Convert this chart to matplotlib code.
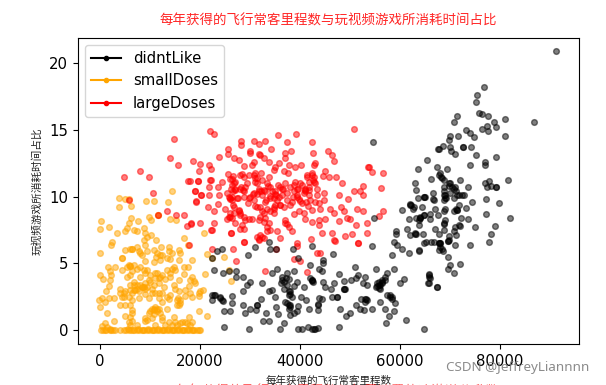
import numpy as np
import matplotlib
matplotlib.use("Agg")
import matplotlib.pyplot as plt
import matplotlib.lines as mlines

cjk = ["Noto Sans CJK SC", "DejaVu Sans"]

title_text = "每年获得的飞行常客里程数与玩视频游戏所消耗时间占比"
next_title_text = "每年获得的飞行常客里程数与每周消费的冰激淋公升数"
xlabel_text = "每年获得的飞行常客里程数"
ylabel_text = "玩视频游戏所消耗时间占比"
watermark = "CSDN @JeffreyLiannnn"
legend_names = ["didntLike", "smallDoses", "largeDoses"]
legend_colors = ["black", "orange", "red"]
x_ticks = [0, 20000, 40000, 60000, 80000]
y_ticks = [0, 5, 10, 15, 20]

# miles are in thousands here
didnt_x = [91.2, 76.7, 75.3, 75.2, 75.7, 76.3, 77.5, 71.3, 70.7, 81, 86.7, 78.7, 77.3, 76.3, 77.5, 79.2, 80.9, 73.2, 74, 74.7,
           71.5, 69.9, 69.7, 68.5, 67.8, 67.5, 70, 70.1, 71, 72.5, 72.6, 74.2, 75.1, 79.2, 77, 76.9, 74, 65.4, 63.5, 67.3,
           69.3, 67.8, 68.3, 66.2, 71.9, 62.9, 63.2, 70, 69.7, 68.7, 70.7, 71.2, 73.5, 76.9, 77.8, 77.3, 78.2, 79.1, 79.2, 81.5,
           63.5, 64.7, 64.8, 66.5, 66.5, 68.7, 69, 69.1, 70.7, 71.7, 72.7, 74.3, 77.1, 79.7, 60.3, 62, 62.1, 62.5, 64.3, 67,
           69, 71.8, 73.1, 71.3, 71.4, 61.7, 63.2, 64, 64.1, 64.7, 65.9, 65.9, 67.5, 68.7, 63.7, 69, 68.7, 72.1, 73.5, 72,
           71, 75, 77.2, 79, 82, 59.2, 59.2, 61.3, 62, 63, 63.1, 64.5, 67, 67.7, 68.7, 70.7, 71.1, 69.7, 78.1, 77.7,
           73.9, 69.5, 69.6, 67.8, 67.9, 66.1, 64.8, 71, 68.3, 58.7, 59.3, 63.7, 54.5, 54.7,
           23.3, 24.3, 22.3, 29.5, 30.9, 33.7, 34, 35.2, 38.5, 42.3, 46.5, 54.4, 60.3, 61.8, 63.7, 58.3, 65.2, 66.7, 67.7, 67.7,
           39.5, 44.5, 44.5, 42, 43.8, 44.4, 22.7, 24.5, 25.8, 27.2, 27.2, 28.5, 30, 29.3, 28.5, 34.3, 35.4, 32.3, 34.3, 33.8,
           38.8, 37.3, 37.1, 37.8, 36.3, 36.2, 36.7, 37.7, 38, 39.3, 38.7, 40.7, 42.3, 42.3, 42.4, 44.5, 45, 46.1, 46.8, 47.8,
           51, 48.8, 48.8, 48.9, 50.1, 51.5, 51.2, 52.9, 52.5, 53.3, 55.1, 58.8, 57.3, 57, 56.3, 55.7, 56, 55.3, 55.7, 56.3,
           60.7, 60, 65.7, 65.7, 65.7, 67.3, 69.6, 70, 69.5, 70.7, 72, 68.5, 65.8, 65.9, 65.6, 67.3,
           22.3, 23, 22.3, 24, 24.5, 26.3, 26.3, 26, 24.7, 28.5, 28.9, 30, 31.3, 31.4, 32.2, 31.2, 35, 35.1, 35.5, 33.1,
           32.5, 33.8, 36.7, 38, 38.8, 39.5, 39.3, 37.8, 37.9, 37, 37.8, 40.2, 41.1, 41.8, 43.5, 43.5, 43.8, 44.3, 46.3, 47.3,
           47.4, 48, 49.1, 50, 51.1, 52, 52.7, 52.2, 53.2, 53, 54.4, 56, 57, 57.7, 57.1, 58.7, 59, 57.3, 58, 58.3,
           61.1, 24.8, 29.7, 36, 39.5, 40.3, 41.5, 42.3, 43, 43.5, 47.7, 64.7,
           68, 68.1, 68.7, 69.7, 70.3, 71, 68.7, 69, 70, 71.3, 72.3, 68.7, 65, 62, 62.7, 64.7, 64, 68.7, 71.7, 69.7,
           67.9, 68, 63.7, 66.7, 70.7, 71.1, 63, 37.7, 38, 37.3, 38, 38.3, 36.3, 36.7, 37.3, 55.7, 55.3, 56.3, 56, 55.2,
           57, 24, 22.7, 24.3, 48.7, 42.5, 42, 43.5, 53, 53.3, 58, 58.3, 42.7]
didnt_y = [20.9, 18.2, 17.6, 17.1, 16.25, 16.2, 16.05, 16.05, 15.6, 15.85, 15.6, 15.6, 15.3, 15.05, 14.9, 15.2, 14.55, 15, 14.8, 14.45,
           14.55, 14.55, 14.25, 13.8, 13.6, 13.55, 13.7, 13.4, 13.2, 13.7, 13.7, 13.7, 13.15, 13, 12.6, 12.4, 12.4, 12.75, 12.05, 12.2,
           12.1, 11.6, 11.4, 11.35, 11.25, 11, 10.5, 11, 10.8, 10.7, 10.6, 10.4, 10.7, 11, 11.2, 10.75, 10.8, 10.7, 10.7, 11.25,
           9.9, 10, 10, 10.25, 9.8, 10.1, 9.9, 9.9, 9.9, 10.1, 10.1, 9.6, 9.8, 9.5, 9, 9.4, 9.4, 9.1, 9.2, 9.1,
           9.1, 9.4, 9.15, 9, 9, 8.3, 8.4, 8.4, 8.4, 8.6, 8.7, 8.3, 8.6, 8.9, 7.9, 8.25, 7.95, 8.4, 8.3, 7.8,
           7.75, 7.7, 8.7, 7.8, 8.4, 7.4, 7.2, 7.55, 7.1, 7.2, 7.2, 7.2, 7.55, 7.2, 7.5, 7.45, 7.1, 7.05, 7.2, 6.6,
           6.4, 6.7, 6.7, 6.5, 6.5, 6.6, 6.55, 6.4, 6.1, 6.6, 6.4, 6, 14.1, 8.4,
           5.95, 6.1, 5.4, 5.6, 6.2, 6.6, 6.1, 6.05, 6.1, 6.3, 5.7, 6.3, 6.1, 5.8, 5.9, 5.6, 6.6, 6.6, 6.5, 6,
           5.4, 5.25, 5.05, 4.9, 4.6, 4.4, 4.5, 4.3, 4.45, 4.45, 4, 3.95, 3.6, 3.4, 2.95, 4.3, 4.6, 3.55, 3, 2.9,
           4.4, 4.25, 3.9, 3.8, 3.75, 3.5, 3.1, 2.9, 2.7, 3.6, 3.3, 3.25, 3.75, 3.75, 3.7, 3.6, 3.25, 3.1, 3.55, 4.2,
           4.7, 3.7, 3.1, 3.1, 3.75, 4.1, 3.9, 4, 3.55, 3.4, 4.55, 4.6, 4.25, 4, 3.75, 3.6, 3.4, 3.3, 3.15, 3.5,
           3.8, 3.5, 4.2, 3.95, 3.55, 3.25, 5.5, 4.9, 4.6, 4.3, 4.95, 5.9, 4.1, 3.9, 3.5, 3.25,
           2.6, 2.6, 2.25, 2.45, 2.2, 2.55, 2, 1.45, 1.4, 1.9, 1.25, 1.6, 1.9, 1.9, 2.3, 1.5, 2.45, 1.7, 1.2, 1.25,
           0.7, 0.7, 0.55, 1.1, 1.3, 1.8, 1.4, 1.9, 1.9, 2.1, 1.6, 2.45, 2.25, 1.6, 1.5, 1.95, 2.4, 2.35, 2.45, 2.5,
           2.5, 1.6, 1.05, 1.25, 1.9, 1.6, 1.5, 2.3, 2.3, 2.1, 1.55, 2.1, 1.6, 1.05, 0.55, 1.45, 2, 2.6, 2.5, 2.3,
           0.75, 0.2, 0.1, 0.05, 0.05, 0.05, 0.25, 0.1, 0.05, 0.15, 0.25, 0.05,
           11.75, 11.45, 11.25, 11, 10.75, 10.75, 10.4, 10.1, 10.25, 10.1, 10.1, 9.75, 10, 9.45, 9.25, 8.6, 8.45, 8, 7.9, 6.75,
           6.55, 6.25, 8.25, 9.75, 8.9, 9.1, 7.25, 2.6, 2.9, 2, 1.75, 2.5, 4, 3.6, 3.4, 3.4, 3.5, 3.6, 3.1, 3.25,
           3.75, 2.4, 2.6, 2.25, 3.05, 3.6, 3.9, 1.9, 2.3, 2.25, 2.6, 2.5, 0.05]

small_x = [3.7, 5, 3.8, 5.7, 6.1, 9.2, 10.7, 13.5, 14.3, 11.5, 11.6, 9.7, 10.1, 6.1, 5.8, 7.5, 5.3, 4.9, 6.8, 7.3,
           8.7, 9, 10.2, 9.3, 8.7, 11.1, 9, 3.3, 1.8, 0.1, -0.1, 2.3, 2.1, 0, 4.9, 6.3, 6.4, 7.3, 8, 9.3,
           10.7, 12.1, 13.7, 13.7, 15.7, 16, 16.7, 17.5, 14, 15.2, 20.7, 21.3, 22.3, 21, 4.3, 4.4, 5.3, 5.9, 6.7, 8,
           9, 11.1, 12, 14, 15.7, 18.3, 3, 1.5, 2.1, 2, -0.1, 0.5, 4.3, 6.3, 9.3, 11.3, 14.3, 14, 16.7, 17.5,
           16.7, 18.3, 19, 17.7, 5.3, 6.7, 8, 9.7, 12, 13, 14.7, 1.7, 1.2, 4, 6, 7.3, 8.3, 9, 10.7, 11.7,
           12.7, 7, 7.7, 8.6, 9, 10.3, 11.7, 4.7, 4.3, 6.3, 2.7, -0.2, 1.7, -0.1, 1, 4, 5, 6.3, 7.7, 9.7,
           11.7, 13.3, 13.7, 15.5, 16, 15.3, 17, 19.7, 20.5, 19.7, 13.3, 1.3, 10.8, 10, 11.3, 10.7, 9, 5, 6.3, 5.9,
           14.7, 17.7, 21.3, 19.7, 2.7, 1, 0.3, 5.7, 6.3, 9, 12.3, 17, 18.3, 16, 25.8, 26.2, 24.7,
           6.7, 7.3, 8, 8.7, 9.3, 6.7, 6, 9, 10, 11, 11.7, 12.3, 11, 10, 9, 6, 6, 5.7, 13.3, 15,
           14.7, 10.7, 12, 13.3, 14.3, 11.3, 12.3, 8.3, 7.7, 6, 4, 5, 4.7, 11, 10.3, 12.3, 14, 15.3, 16, 15.7,
           18, 18.3, 11, 10.3, 11.3, 10.7, 11.7, 12, 9.7, 9.3, 10.3, 12.3, 13.7, 15, 16.3, 17.3, 18, 14.3, 13, 11,
           7.3, 6, 1.3, 2, 15.3, 6.3, 6, 12.3, 5.7, 0.3, 14, 15.7, 18, 18.7, 15, 15.7, 17, 20, 7.3, 8.7, 2,
           0.1, 0.6, 1.2, 2, 2.5, 3, 4, 4.8, 5.2, 5.8, 6.2, 6.8, 7.3, 7.8, 8.3, 8.8, 9.3, 9.8, 10.3, 10.8,
           11.3, 11.8, 12.3, 12.8, 13.3, 13.8, 14.3, 14.8, 15.3, 15.8, 16.3, 16.8, 17.3, 17.8, 18.3, 18.8, 19.3, 20,
           5.5, 6.5, 7.6, 8.5, 9.5, 10.5, 11.5, 12.5, 13.5, 14.5, 15.5, 16.5, 17.5, 18.5, 19.7, 0.9, 2.2]
small_y = [9.9, 9.8, 9.25, 9.8, 9.3, 9.7, 9.7, 9.6, 10.45, 8.6, 8.6, 8.5, 8.25, 8.4, 8, 8.2, 7.65, 7.4, 7.5, 7.4,
           7.65, 7.3, 7.1, 7, 6.75, 6.75, 6.4, 7.25, 7.75, 8.2, 7.6, 6.6, 6.4, 5.8, 6, 6.1, 6.1, 6.25, 5.75, 5.9,
           6, 6.2, 6.25, 5.9, 6, 5.75, 6.9, 6.4, 8.3, 8.25, 7.3, 5.7, 5.4, 4.2, 5.4, 5.4, 4.75, 4.8, 4.9, 4.7,
           5.15, 5.5, 5.6, 5.3, 5.25, 5.25, 4.7, 4.75, 4.1, 3.75, 4.1, 3.8, 4.5, 4.4, 4.5, 4.3, 4.6, 4.25, 4.75, 4.75,
           4.2, 3.95, 3.5, 3.3, 3.95, 3.6, 4, 3.75, 4, 3.85, 3.4, 3.3, 2.9, 3.1, 3.4, 3.4, 3.25, 3.1, 3.4, 3.55,
           3.25, 3, 2.9, 3.2, 2.7, 2.75, 2.75, 2.75, 2.5, 2.75, 2.4, 2.25, 2.4, 1.75, 2.1, 1.9, 1.9, 2.25, 2.4, 2.4,
           2.4, 2.5, 2.3, 2.4, 2, 1.9, 2.55, 2.75, 3, 2.55, 1.6, 1.3, 1.6, 1.4, 1.4, 1.2, 0.9, 1.05, 1.25, 1,
           1, 1, 1.05, 1.4, 0.7, 0.5, 0.3, 0.6, 0.65, 0.7, 1, 0.6, 0.6, 0.5, 4.5, 3.7, 5.5,
           3.4, 3.1, 3.4, 3.25, 3.25, 3, 3, 3.5, 3.6, 3.9, 3.9, 4.1, 4.25, 4.1, 4.25, 4.1, 4.8, 4.9, 4.5, 4.5,
           4.75, 5.1, 5.25, 5.4, 5.75, 5.75, 5.6, 5.6, 5.9, 6.1, 2.75, 2.9, 2.5, 2.75, 3.05, 2.75, 2.6, 2.25, 2.25, 1.9,
           2.75, 2.5, 1.75, 1.6, 1.6, 1.5, 1.6, 1.25, 1.25, 0.75, 0.9, 0.75, 0.6, 0.6, 0.6, 0.5, 0.4, 0.4, 0.4, 0.4,
           0.4, 0.4, 0.25, 0.1, 0.35, 1.5, 1.9, 2.1, 2.5, 2.4, 3.95, 3.75, 3.75, 3.7, 3.1, 2.9, 3, 2.9, 4.6, 4.5, 4.4,
           0, 0, 0, 0, 0, 0, 0, 0, 0, 0, 0, 0, 0, 0, 0, 0, 0, 0, 0, 0,
           0, 0, 0, 0, 0, 0, 0, 0, 0, 0, 0, 0, 0, 0, 0, 0, 0, 0,
           0.05, 0, 0.05, 0, 0.1, 0, 0.05, 0, 0.1, 0, 0.05, 0, 0.1, 0, 0, 0, 0]

large_x = [22, 22.8, 35.5, 39.1, 50.8, 28.1, 28.1, 30.7, 31.7, 33, 34.1, 37.3, 42.3, 25.5, 25.5, 29.9, 29.9, 31.7, 32, 37,
           38.1, 37, 42.6, 45.5, 46.3, 46.7, 23.7, 18.5, 20, 19.8, 21.8, 22.1, 26.8, 27.8, 32.8, 33.7, 28.7, 30.3, 30.8, 35.7,
           35, 37.7, 39, 40.2, 43, 42.7, 53.5, 44.9, 34.7, 36.7, 37.5, 32.1, 31, 28.3, 25.5, 26.5, 41.3, 42.3, 42.8, 44.5,
           45.8, 47.1, 21.9, 22.2, 19.5, 18, 24.3, 26.3, 26.7, 30.9, 31.3, 33.7, 37, 39, 40.3, 42.7, 48.4, 52.5, 21.7, 23.5,
           28.1, 28.5, 18.9, 26.2, 35.5, 36.3, 50.7, 52, 52.5, 20.2, 21.7, 23.7, 25.3, 26.3, 28.7, 29.7, 31.7, 32.7, 32.3, 34,
           35.2, 37.3, 39.3, 41, 41.7, 43.3, 44.7, 47.7, 49.5, 19.1, 23.5, 26, 30.7, 33, 35.3, 38, 41.2, 43, 21.5, 22.8,
           25, 26.7, 27.7, 32, 34.8, 36.7, 39.7, 42.3, 44, 45.9, 48.1, 51.3, 52.5, 48.8, 26, 28, 32.7, 34.7, 38.7, 40.7,
           46.8, 49.3, 25.3, 29, 30.3, 32.7, 31.7, 41, 42.3, 43.7, 45, 47.7, 50, 18.2, 20, 22.8, 27, 28.3, 37, 37.7,
           43.7, 53.3, 51.2, 22.2, 28.7, 33.3, 33.3, 38.3, 26.1, 35.3, 44.3, 46.3, 49, 50.3, 53.3, 32, 31.7, 35.9, 42.1, 46.8,
           28.7, 32.8, 51.5, 27, 27.5, 29, 29.5, 30.5, 31, 33.5, 34, 35, 36, 36.5, 38.5, 39.5, 40, 41, 41.5, 26.5,
           53.7, 54.4, 56.5, 56.1, 56.5, 55.7, 4.7, 8, 9.7, 10.5, 13.9, 15.5, 14.8, 17.5, 19.5, 18.9, 20.1, 19.1, 5.8, 13.4,
           11.5, 15.2, 16.8, 18.1, 17.3, 17.7, 22.3, 26.1, 22.4, 26.5, 27.2, 33, 41.3, 43.3, 43.9, 38.7, 39.9, 39.3, 39.3, 35.2,
           28.7, 31.7, 46.9, 51.5,
           25.9, 26.3, 27, 26.5, 25.9, 26.3, 25.7, 28, 28.7, 28, 28.7, 30.7, 31.3, 31, 31.7, 32.1, 31.3, 33, 34.3, 35,
           35.7, 34.7, 36.3, 38.7, 39.3, 39.7, 41, 40.7, 41.7, 42.3, 42.5, 43, 41.3, 41.7, 27.7, 28, 26.7, 26, 25.7, 26.3,
           33.3, 34.7, 35, 34, 33, 33.7, 37, 37.3, 36, 34, 33.3, 38, 38.7, 40, 39.3, 37.3, 38.3, 30, 30.7, 27.3,
           27, 29.3, 29.7, 32.3, 33.2, 36, 40.3, 42, 43.7, 44.7, 41.7, 43.3, 31.3, 32.3, 32, 28.7, 29.7, 28, 34, 32.3, 31.3]
large_y = [14.95, 14.7, 14.6, 14.7, 15.1, 14.2, 13.9, 14.2, 13.95, 14.2, 13.6, 14.1, 14.1, 13.55, 13.2, 13.4, 13.3, 13.2, 13.1, 13.3,
           13.4, 12.9, 13.3, 13.4, 13.1, 12.7, 13, 12.7, 12.45, 11.9, 12.4, 12.1, 12.9, 12.75, 12.9, 12.6, 12.3, 12.4, 12.6, 12.5,
           12.25, 12.4, 12.2, 12.4, 12.5, 12.4, 12.2, 11.9, 12, 11.9, 11.75, 11.8, 11.8, 11.7, 11.7, 11.55, 11.6, 11.75, 11.5, 11.55,
           11.5, 11.45, 11.25, 11.25, 11.2, 11.2, 11.1, 11.3, 11, 11.4, 11, 11.45, 11.05, 11.1, 10.9, 11.1, 11.05, 10.8, 10.75, 10.75,
           10.75, 10.5, 10.45, 10.6, 10.9, 10.6, 10.45, 10.45, 10.1, 10.1, 10.1, 10.1, 10.25, 10, 9.95, 9.9, 10.4, 10.5, 10.1, 10.05,
           10.1, 10.25, 9.95, 10.4, 10.5, 10.1, 10.25, 10.1, 9.8, 9.6, 9.45, 9.8, 9.75, 9.6, 9.75, 9.4, 9.6, 9.6, 9.25, 8.95,
           9.1, 9.2, 8.95, 9.2, 9.25, 9.2, 8.95, 9, 9.05, 9.1, 9.2, 9.1, 8.9, 8.9, 8.5, 8.6, 8.75, 8.75, 8.7, 8.8,
           8.75, 8.4, 8.35, 8.25, 8.3, 8.1, 8.25, 8.3, 8.1, 8.25, 8.3, 8.2, 8.3, 7.95, 8.05, 8.05, 8, 7.9, 8, 7.75,
           7.9, 8, 7.85, 7.5, 7.6, 7.75, 7.4, 7.4, 7.3, 7.45, 7.25, 7.3, 7.05, 7.2, 7.3, 7.1, 6.8, 6.9, 6.85, 6.75,
           6.6, 6.9, 6.55, 10.5, 9.9, 10.7, 9.5, 10.2, 9.3, 10.8, 9.9, 10.4, 9.4, 10.6, 10, 10.6, 9.7, 10.5, 9.3, 9.4,
           12.2, 11.85, 11.75, 10.65, 8.95, 8.55, 11.45, 11.9, 11.5, 10.25, 12.9, 12.4, 14.3, 11.2, 11.2, 10.45, 10.1, 9.65, 9.75, 8.9,
           8.65, 8.6, 8.6, 8, 7.8, 6.4, 7.5, 7.3, 6.1, 6.05, 5.2, 4.45, 4.35, 5.75, 5.75, 5.3, 5.2, 6.5, 6.3, 6.05,
           6.6, 6.75, 6.7, 6.5,
           11.3, 10.9, 10.6, 10.4, 9.9, 9.75, 9.95, 11.6, 11.5, 10.6, 10.45, 11.6, 11.4, 11.1, 10.6, 10.4, 10.2, 10.4, 10.4, 10.2,
           10, 9.9, 10.1, 10.4, 10.1, 9.8, 10.6, 10.25, 10.1, 11.6, 11.25, 11, 11.5, 11.1, 9, 8.75, 8.75, 8.75, 8.5, 8.4,
           9.1, 9.1, 9.4, 8.9, 8.4, 8, 8.25, 7.95, 10.75, 10.75, 11, 10.75, 10.9, 11, 10.6, 9.75, 9.6, 10, 10.25, 9.9,
           11.1, 11, 11.6, 11.25, 9.75, 9.4, 9.5, 9.75, 9.5, 9.75, 10.75, 10.6, 9.2, 8.95, 8.5, 8.5, 8.3, 7.6, 7.5, 7, 7]

fig = plt.figure(figsize=(6.06, 3.85), dpi=100)
ax = fig.add_axes([78 / 606, 1 - 344.3 / 385, 501 / 606, 306.8 / 385])

ax.scatter(np.array(small_x) * 1000, small_y, s=17, c="orange", alpha=0.5)
ax.scatter(np.array(large_x) * 1000, large_y, s=17, c="red", alpha=0.5)
ax.scatter(np.array(didnt_x) * 1000, didnt_y, s=17, c="black", alpha=0.5)

ax.set_xlim(-4400, 95800)
ax.set_ylim(-1.07, 21.94)
ax.set_xticks(x_ticks)
ax.set_yticks(y_ticks)
ax.tick_params(labelsize=10.7)

ax.set_xlabel(xlabel_text, fontsize=7.6, family=cjk, color="#222222", labelpad=4.5)
ax.set_ylabel(ylabel_text, fontsize=7.7, family=cjk, color="#222222", labelpad=5)
ax.set_title(title_text, fontsize=9.7, family=cjk, color="red", alpha=0.85, pad=9)

handles = []
for name, col in zip(legend_names, legend_colors):
    handles.append(mlines.Line2D([], [], color=col, marker=".", markersize=6, label=name))
ax.legend(handles=handles, loc="upper left", fontsize=10.7)

fig.text(338 / 606, 1 - 384.6 / 385, next_title_text, fontsize=9.7, family=cjk, color="red",
         alpha=0.6, ha="center", va="top")
fig.text(518 / 606, 1 - 367 / 385, watermark, fontsize=9.7, family="Noto Sans", color="#777777",
         alpha=0.85, ha="center", va="center")

fig.savefig("out.png", dpi=100)
